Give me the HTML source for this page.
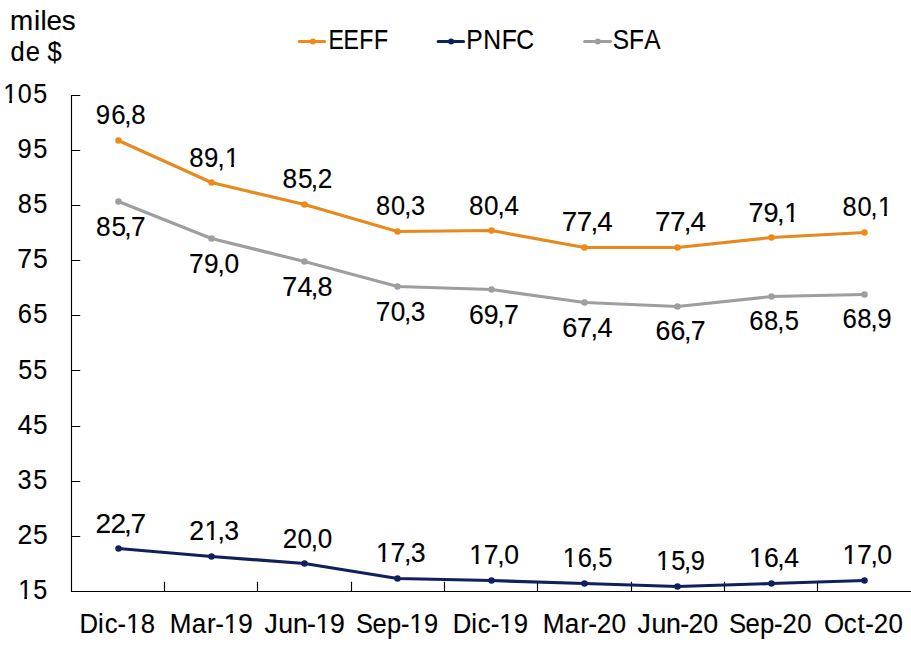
<!DOCTYPE html><html><head><meta charset="utf-8"><title>Chart</title><style>html,body{margin:0;padding:0;background:#fff;width:911px;height:661px;overflow:hidden}svg{display:block}text{font-family:"Liberation Sans",sans-serif;font-size:27.56px;fill:#000;stroke:#000;stroke-width:0.15px}</style></head><body>
<svg width="911" height="661" viewBox="0 0 911 661">
<path d="M71.5 94.9 V591.5 H911" fill="none" stroke="#000" stroke-width="1.15"/>
<path d="M71.5 95.5 H80.2 M71.5 150.5 H80.2 M71.5 205.5 H80.2 M71.5 260.5 H80.2 M71.5 315.5 H80.2 M71.5 370.5 H80.2 M71.5 426.5 H80.2 M71.5 481.5 H80.2 M71.5 536.5 H80.2 M164.5 581.8 V591.5 M257.5 581.8 V591.5 M351.5 581.8 V591.5 M444.5 581.8 V591.5 M537.5 581.8 V591.5 M631.5 581.8 V591.5 M724.5 581.8 V591.5 M817.5 581.8 V591.5" fill="none" stroke="#000" stroke-width="1.15"/>
<text transform="translate(3.20 102.80) scale(0.9111 1)" x="0.00 16.06 33.06" y="0">105</text>
<text transform="translate(17.51 157.94) scale(0.9247 1)" x="0.00 16.99" y="0">95</text>
<text transform="translate(17.75 213.08) scale(0.9226 1)" x="0.00 16.78" y="0">85</text>
<text transform="translate(17.32 268.22) scale(0.9666 1)" x="0.00 16.11" y="0">75</text>
<text transform="translate(17.85 323.36) scale(0.9272 1)" x="0.00 16.55" y="0">65</text>
<text transform="translate(18.32 378.50) scale(0.9128 1)" x="0.00 16.42" y="0">55</text>
<text transform="translate(17.66 433.64) scale(0.9507 1)" x="0.00 16.16" y="0">45</text>
<text transform="translate(17.62 488.78) scale(0.9163 1)" x="0.00 17.09" y="0">35</text>
<text transform="translate(17.54 543.92) scale(0.9641 1)" x="0.00 15.95" y="0">25</text>
<text transform="translate(18.17 599.06) scale(0.9128 1)" x="0.00 16.58" y="0">15</text>
<text transform="translate(10.03 29.80) scale(0.9817 1)" x="0.00 24.33 31.07 37.29 52.61" y="0" style="font-size:28.32px">miles</text>
<text transform="translate(10.57 61.30) scale(0.9017 1)" x="0.00 16.85 32.62 40.90" y="0" style="font-size:28.32px">de $</text>
<polyline points="118.5,201.5 211.5,238.5 304.5,261.5 397.5,286.5 491.5,289.5 584.5,302.5 677.5,306.5 771.5,296.5 864.5,294.5" fill="none" stroke="#9E9E9E" stroke-width="3.2" stroke-linejoin="round" stroke-linecap="round"/>
<circle cx="118.5" cy="201.5" r="3.25" fill="#9E9E9E"/>
<circle cx="211.5" cy="238.5" r="3.25" fill="#9E9E9E"/>
<circle cx="304.5" cy="261.5" r="3.25" fill="#9E9E9E"/>
<circle cx="397.5" cy="286.5" r="3.25" fill="#9E9E9E"/>
<circle cx="491.5" cy="289.5" r="3.25" fill="#9E9E9E"/>
<circle cx="584.5" cy="302.5" r="3.25" fill="#9E9E9E"/>
<circle cx="677.5" cy="306.5" r="3.25" fill="#9E9E9E"/>
<circle cx="771.5" cy="296.5" r="3.25" fill="#9E9E9E"/>
<circle cx="864.5" cy="294.5" r="3.25" fill="#9E9E9E"/>
<text transform="translate(95.91 235.60) scale(0.9551 1)" x="0.00 16.21 29.67 36.78" y="0">85,7</text>
<text transform="translate(189.10 272.55) scale(0.9555 1)" x="0.00 15.54 29.76 36.95" y="0">79,0</text>
<text transform="translate(282.19 295.70) scale(0.9802 1)" x="0.00 15.51 29.10 36.03" y="0">74,8</text>
<text transform="translate(375.71 320.52) scale(0.9495 1)" x="0.00 15.87 29.92 37.01" y="0">70,3</text>
<text transform="translate(469.07 323.83) scale(0.9670 1)" x="0.00 15.13 29.22 36.20" y="0">69,7</text>
<text transform="translate(562.22 336.51) scale(0.9836 1)" x="0.00 15.01 28.79 35.81" y="0">67,4</text>
<text transform="translate(655.62 340.37) scale(0.9687 1)" x="0.00 15.47 29.18 36.14" y="0">66,7</text>
<text transform="translate(749.21 330.44) scale(0.9290 1)" x="0.00 15.99 30.26 38.31" y="0">68,5</text>
<text transform="translate(842.42 328.24) scale(0.9371 1)" x="0.00 15.85 30.03 37.20" y="0">68,9</text>
<polyline points="118.5,140.5 211.5,182.5 304.5,204.5 397.5,231.5 491.5,230.5 584.5,247.5 677.5,247.5 771.5,237.5 864.5,232.5" fill="none" stroke="#E6891F" stroke-width="3.2" stroke-linejoin="round" stroke-linecap="round"/>
<circle cx="118.5" cy="140.5" r="3.25" fill="#F08A14"/>
<circle cx="211.5" cy="182.5" r="3.25" fill="#F08A14"/>
<circle cx="304.5" cy="204.5" r="3.25" fill="#F08A14"/>
<circle cx="397.5" cy="231.5" r="3.25" fill="#F08A14"/>
<circle cx="491.5" cy="230.5" r="3.25" fill="#F08A14"/>
<circle cx="584.5" cy="247.5" r="3.25" fill="#F08A14"/>
<circle cx="677.5" cy="247.5" r="3.25" fill="#F08A14"/>
<circle cx="771.5" cy="237.5" r="3.25" fill="#F08A14"/>
<circle cx="864.5" cy="232.5" r="3.25" fill="#F08A14"/>
<text transform="translate(95.82 124.10) scale(0.9371 1)" x="0.00 16.38 30.41 37.83" y="0">96,8</text>
<text transform="translate(189.35 166.56) scale(0.9347 1)" x="0.00 15.79 30.24 38.05" y="0">89,1</text>
<text transform="translate(282.49 188.06) scale(0.9535 1)" x="0.00 16.24 29.72 37.06" y="0">85,2</text>
<text transform="translate(376.02 215.08) scale(0.9204 1)" x="0.00 16.27 30.65 38.08" y="0">80,3</text>
<text transform="translate(469.12 214.53) scale(0.9436 1)" x="0.00 15.87 29.99 37.46" y="0">80,4</text>
<text transform="translate(561.80 231.07) scale(1.0098 1)" x="0.00 14.84 28.36 35.10" y="0">77,4</text>
<text transform="translate(655.08 231.07) scale(1.0098 1)" x="0.00 14.84 28.36 35.10" y="0">77,4</text>
<text transform="translate(748.60 221.70) scale(0.9795 1)" x="0.00 15.16 29.12 36.38" y="0">79,1</text>
<text transform="translate(842.42 216.18) scale(0.9208 1)" x="0.00 16.26 30.64 38.63" y="0">80,1</text>
<polyline points="118.5,548.5 211.5,556.5 304.5,563.5 397.5,578.5 491.5,580.5 584.5,583.5 677.5,586.5 771.5,583.5 864.5,580.5" fill="none" stroke="#0F215A" stroke-width="3.2" stroke-linejoin="round" stroke-linecap="round"/>
<circle cx="118.5" cy="548.5" r="3.25" fill="#0F215A"/>
<circle cx="211.5" cy="556.5" r="3.25" fill="#0F215A"/>
<circle cx="304.5" cy="563.5" r="3.25" fill="#0F215A"/>
<circle cx="397.5" cy="578.5" r="3.25" fill="#0F215A"/>
<circle cx="491.5" cy="580.5" r="3.25" fill="#0F215A"/>
<circle cx="584.5" cy="583.5" r="3.25" fill="#0F215A"/>
<circle cx="677.5" cy="586.5" r="3.25" fill="#0F215A"/>
<circle cx="771.5" cy="583.5" r="3.25" fill="#0F215A"/>
<circle cx="864.5" cy="580.5" r="3.25" fill="#0F215A"/>
<text transform="translate(95.53 532.67) scale(1.0192 1)" x="0.00 14.71 27.94 34.36" y="0">22,7</text>
<text transform="translate(189.21 540.39) scale(0.9677 1)" x="0.00 15.71 29.22 36.11" y="0">21,3</text>
<text transform="translate(282.67 547.56) scale(0.9442 1)" x="0.00 15.74 29.85 37.18" y="0">20,0</text>
<text transform="translate(375.96 562.45) scale(0.9702 1)" x="0.00 15.03 28.94 35.80" y="0">17,3</text>
<text transform="translate(469.28 564.10) scale(0.9646 1)" x="0.00 15.11 29.09 36.17" y="0">17,0</text>
<text transform="translate(562.87 566.86) scale(0.9272 1)" x="0.00 15.94 30.08 38.16" y="0">16,5</text>
<text transform="translate(656.17 570.17) scale(0.9247 1)" x="0.00 16.38 30.15 37.48" y="0">15,9</text>
<text transform="translate(749.12 567.41) scale(0.9652 1)" x="0.00 15.33 29.07 36.29" y="0">16,4</text>
<text transform="translate(842.40 564.10) scale(0.9646 1)" x="0.00 15.11 29.09 36.17" y="0">17,0</text>
<text transform="translate(79.54 632.80) scale(0.9319 1)" x="0.00 19.94 27.00 40.77 50.07 65.79" y="0">Dic-18</text>
<text transform="translate(169.84 632.80) scale(0.9431 1)" x="0.00 23.25 39.49 48.10 57.25 72.55" y="0">Mar-19</text>
<text transform="translate(264.44 632.80) scale(0.9677 1)" x="0.00 14.33 29.53 44.01 52.84 67.77" y="0">Jun-19</text>
<text transform="translate(356.00 632.80) scale(0.9221 1)" x="0.00 17.90 33.54 48.71 58.15 73.79" y="0">Sep-19</text>
<text transform="translate(452.65 632.80) scale(0.9331 1)" x="0.00 19.92 26.97 40.73 50.01 65.47" y="0">Dic-19</text>
<text transform="translate(542.87 632.80) scale(0.9510 1)" x="0.00 23.09 39.22 47.76 56.58 72.21" y="0">Mar-20</text>
<text transform="translate(637.54 632.80) scale(0.9713 1)" x="0.00 14.27 29.41 43.85 52.42 67.73" y="0">Jun-20</text>
<text transform="translate(729.02 632.80) scale(0.9335 1)" x="0.00 17.70 33.15 48.17 57.22 73.14" y="0">Sep-20</text>
<text transform="translate(824.00 632.80) scale(0.9391 1)" x="0.00 20.98 35.63 43.96 52.93 68.76" y="0">Oct-20</text>
<path d="M299.2 41.5 H324.6" stroke="#F08A14" stroke-width="3.2" stroke-linecap="round"/><circle cx="312.8" cy="41.5" r="3" fill="#F08A14"/><text transform="translate(328.38 49.00) scale(0.8375 1)" x="0.00 18.10 36.75 54.36" y="0">EEFF</text>
<path d="M438.2 41.5 H463.5" stroke="#0F215A" stroke-width="3.2" stroke-linecap="round"/><circle cx="451.1" cy="41.5" r="3" fill="#0F215A"/><text transform="translate(466.24 49.00) scale(0.8946 1)" x="0.00 18.97 39.61 55.83" y="0">PNFC</text>
<path d="M584.7 41.5 H610.5" stroke="#9E9E9E" stroke-width="3.2" stroke-linecap="round"/><circle cx="597.8" cy="41.5" r="3" fill="#9E9E9E"/><text transform="translate(612.80 49.00) scale(0.8864 1)" x="0.00 18.20 35.36" y="0">SFA</text>
<path fill="#fff" d="M4.00 99.00 H9.30 V104.00 H4.00 Z M11.94 99.00 H17.00 V104.00 H11.94 Z M19.00 596.00 H24.29 V600.00 H19.00 Z M26.93 596.00 H32.00 V600.00 H26.93 Z M226.00 163.00 H231.18 V168.00 H226.00 Z M233.88 163.00 H239.00 V168.00 H233.88 Z M785.00 218.00 H790.79 V223.00 H785.00 Z M793.62 218.00 H799.00 V223.00 H793.62 Z M879.00 213.00 H884.16 V217.00 H879.00 Z M886.82 213.00 H892.00 V217.00 H886.82 Z M205.00 537.00 H210.89 V541.00 H205.00 Z M213.69 537.00 H219.00 V541.00 H213.69 Z M377.00 559.00 H382.46 V564.00 H377.00 Z M385.27 559.00 H391.00 V564.00 H385.27 Z M470.00 561.00 H475.75 V565.00 H470.00 Z M478.54 561.00 H484.00 V565.00 H478.54 Z M564.00 564.00 H569.08 V568.00 H564.00 Z M571.76 564.00 H577.00 V568.00 H571.76 Z M657.00 567.00 H662.36 V571.00 H657.00 Z M665.04 567.00 H670.00 V571.00 H665.04 Z M750.00 564.00 H755.59 V569.00 H750.00 Z M758.38 564.00 H764.00 V569.00 H758.38 Z M843.00 561.00 H848.87 V565.00 H843.00 Z M851.66 561.00 H857.00 V565.00 H851.66 Z M127.00 629.00 H132.45 V634.00 H127.00 Z M135.15 629.00 H140.00 V634.00 H135.15 Z M225.00 629.00 H230.16 V634.00 H225.00 Z M232.88 629.00 H238.00 V634.00 H232.88 Z M316.00 629.00 H322.06 V634.00 H316.00 Z M324.86 629.00 H330.00 V634.00 H324.86 Z M410.00 629.00 H415.81 V634.00 H410.00 Z M418.48 629.00 H424.00 V634.00 H418.48 Z M500.00 629.00 H505.57 V634.00 H500.00 Z M508.27 629.00 H514.00 V634.00 H508.27 Z"/>
</svg></body></html>
